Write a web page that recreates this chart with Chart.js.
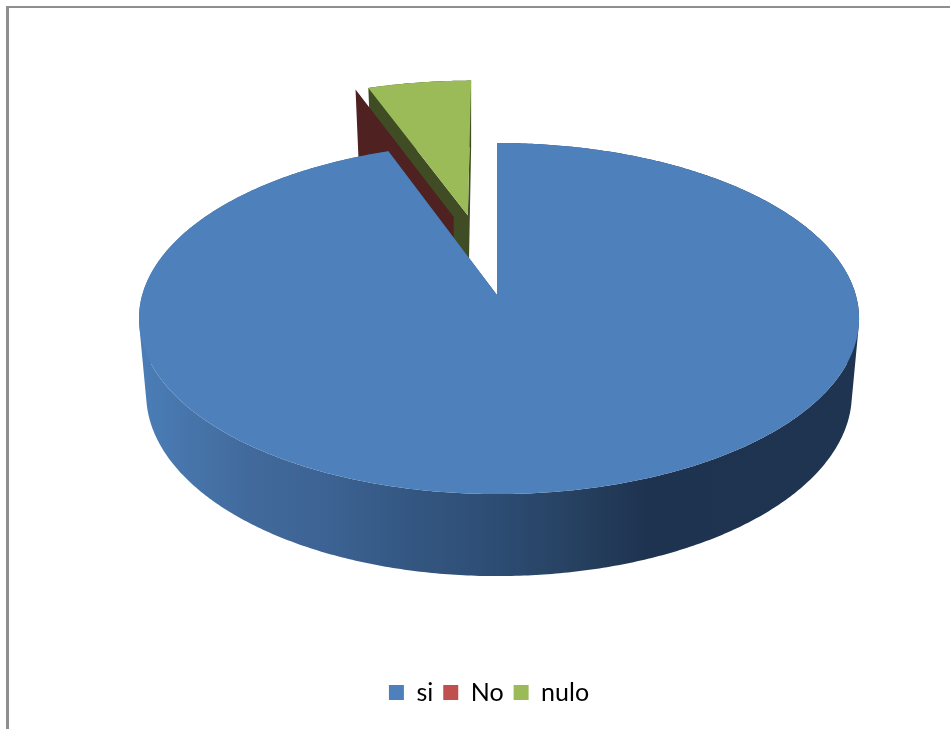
<!DOCTYPE html>
<html><head><meta charset="utf-8">
<style>html,body{margin:0;padding:0;background:#fff;overflow:hidden}#w{position:relative;width:950px;height:729px}</style>
<script src="https://cdn.jsdelivr.net/npm/chart.js@4"></script>
</head><body><div id="w"><canvas id="c" width="950" height="729"></canvas></div>
<script>
const categories = ['si', 'No', 'nulo'];
const values = [94.4, 0, 5.6];
const topColors = ['#4e80bc', '#c0504d', '#9bbb59'];
const wallColors = [null, '#4f2120', '#3f4c24'];

// view of the tilted disc, in px
const VIEW = {ox:497, oy:295, dL:354.8, dR:358.8, a:172.4, c:-0.134, explode:0.25};
const pt = (u,v)=>{
  const w = 1 + VIEW.c*v;
  return {x: VIEW.ox + (u<0?VIEW.dL:VIEW.dR)*u/w, y: VIEW.oy + VIEW.a*v/w};
};
const low = (p,xmax)=>({x: Math.min(xmax, 499 + (p.x-499)*0.98), y: p.y*1.0371 + 63.7});

const pie3d = {
  id:'pie3d',
  beforeDraw(chart){
    const g = chart.ctx;
    g.save(); g.fillStyle='#8f8f8f';
    g.fillRect(6,6,944,2); g.fillRect(6,6,3,723);
    g.restore();
  },
  beforeDatasetsDraw(chart){
    const g = chart.ctx, arcs = chart.getDatasetMeta(0).data;
    const ang = a=>a + Math.PI/2;
    const midOf = a=>(ang(a.startAngle)+ang(a.endAngle))/2;
    const m0 = midOf(arcs[0]), e = VIEW.explode;
    const cu = -e*Math.sin(m0), cv = e*Math.cos(m0);
    const shape = a=>{
      const m = midOf(a), s = ang(a.startAngle), t = ang(a.endAngle);
      const ax = cu + e*Math.sin(m), ay = cv - e*Math.cos(m);
      const rim = [], n = Math.max(1, Math.ceil((t-s)/0.01));
      for(let i=0;i<=n;i++){const th = s+(t-s)*i/n; rim.push(pt(ax+Math.sin(th), ay-Math.cos(th)));}
      return {apex:pt(ax,ay), rim};
    };
    const area = ps=>ps.reduce((s,p,i)=>{const q=ps[(i+1)%ps.length];return s+p.x*q.y-q.x*p.y;},0);
    const addPoly = ps=>{
      const qs = area(ps)<0 ? ps.slice().reverse() : ps;
      qs.forEach((p,i)=>i?g.lineTo(p.x,p.y):g.moveTo(p.x,p.y)); g.closePath();
    };
    const grad = g.createLinearGradient(147,0,853,0);
    [[0,'#4a7cb5'],[0.153,'#41699a'],[0.252,'#3c6394'],[0.382,'#335680'],[0.5,'#2d4c73'],[0.61,'#26405f'],[0.708,'#1e3350'],[1,'#1f3450']]
      .forEach(([o,col])=>grad.addColorStop(o,col));
    [2,1,0].forEach(i=>{
      const sh = shape(arcs[i]);
      const xmax = Math.max(sh.apex.x, ...sh.rim.map(p=>p.x));
      const dn = p=>low(p,xmax);
      g.beginPath();
      for(let k=0;k<sh.rim.length-1;k++){
        const p=sh.rim[k], q=sh.rim[k+1];
        addPoly([p,q,dn(q),dn(p)]);
      }
      const first = sh.rim[0], last = sh.rim[sh.rim.length-1];
      addPoly([sh.apex,first,dn(first),dn(sh.apex)]);
      addPoly([sh.apex,last,dn(last),dn(sh.apex)]);
      g.fillStyle = wallColors[i] || grad; g.fill();
      if(values[i]>0){
        g.beginPath(); addPoly([sh.apex].concat(sh.rim));
        g.fillStyle = topColors[i]; g.fill();
      }
    });
    return false;
  }
};

new Chart(document.getElementById('c'), {
  type:'pie',
  data:{labels:categories, datasets:[{data:values, backgroundColor:topColors, borderWidth:0}]},
  options:{
    responsive:false, animation:false,
    layout:{padding:{bottom:14, left:28}},
    plugins:{
      tooltip:{enabled:false},
      legend:{position:'bottom', labels:{boxWidth:15, boxHeight:15, padding:10, color:'#000',
        font:{family:'Lato', size:25}}}
    }
  },
  plugins:[pie3d]
});
</script></body></html>
